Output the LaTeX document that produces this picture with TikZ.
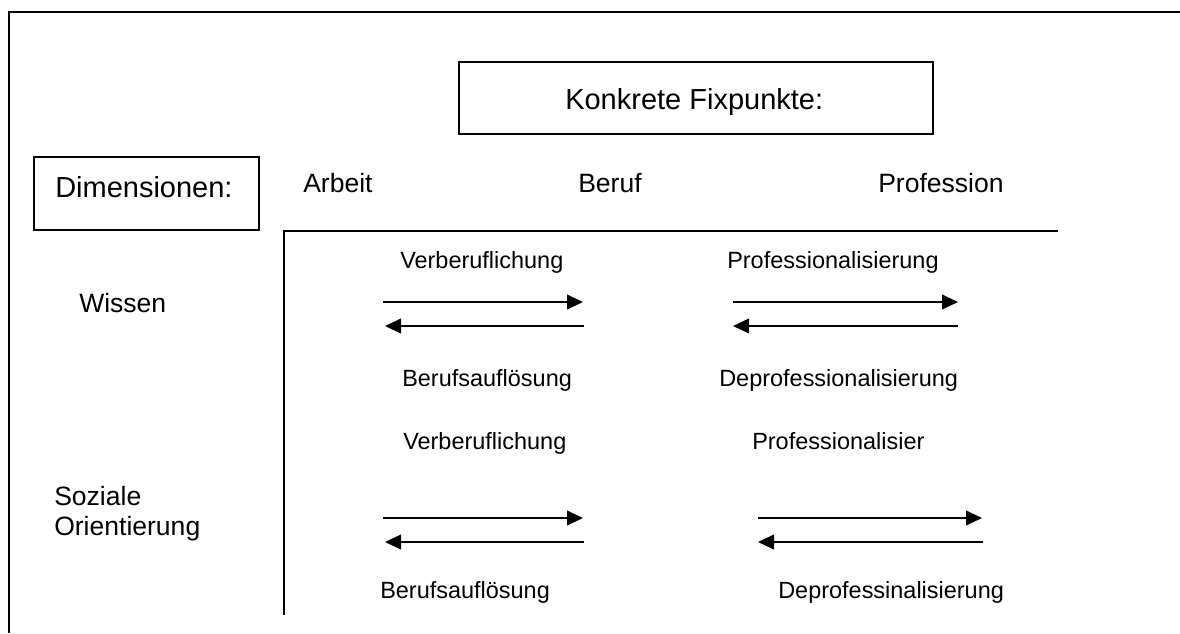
\documentclass[tikz,border=0pt]{standalone}
\usepackage{fontspec}
\setmainfont{Liberation Sans}
\usetikzlibrary{arrows.meta}
\begin{document}
\begin{tikzpicture}[x=0.75pt,y=-0.75pt,
  ln/.style={line width=1.4pt},
  big/.style={font=\fontsize{21.75}{26}\selectfont, inner sep=0, anchor=base west},
  mid/.style={font=\fontsize{19.9}{24}\selectfont, inner sep=0, anchor=base west},
  sml/.style={font=\fontsize{17.6}{21}\selectfont, inner sep=0, anchor=base west},
  arr/.style={line width=1.4pt, -{Triangle[length=12pt,width=11pt]}},
  box/.style={draw, line width=1.4pt, inner sep=0}]
\useasboundingbox (0,0) rectangle (1180,633);
% outer frame (cut at right and bottom)
\coordinate (fr) at (1180,12);
\coordinate (ftl) at (9,12);
\coordinate (fb) at (9,633);
\draw[ln] (fr) -- (ftl) -- (fb);
% boxes
\node[box, minimum width=355.5pt, minimum height=54pt] (kfbox) at (696,98) {};
\node[big] (kf) at (565,109) {Konkrete Fixpunkte:};
\node[box, minimum width=168.75pt, minimum height=54.75pt] (dimbox) at (146.5,193.5) {};
\node[big] (dim) at (55,197) {Dimensionen:};
% column heads
\node[mid] (arbeit) at (303,192) {Arbeit};
\node[mid] (beruf) at (578,192) {Beruf};
\node[mid] (prof) at (878,192) {Profession};
% axes
\coordinate (hr) at (1058,231);
\coordinate (corner) at (284,231);
\coordinate (vb) at (284,615);
\draw[ln] (hr) -- (corner) -- (vb);
% row labels
\node[mid] (wissen) at (79,312) {Wissen};
\node[mid] (soz) at (54,505) {Soziale};
\node[mid] (orient) at (54,535) {Orientierung};
% row 1
\node[sml] (v1) at (400,268) {Verberuflichung};
\node[sml] (p1) at (727,268) {Professionalisierung};
\node[sml] (b1) at (402,386) {Berufsauflösung};
\node[sml] (d1) at (719,386) {Deprofessionalisierung};
\coordinate (a1s) at (383,302); \coordinate (a1e) at (583,302);
\coordinate (a2s) at (584,326); \coordinate (a2e) at (385,326);
\coordinate (a3s) at (733,302); \coordinate (a3e) at (958,302);
\coordinate (a4s) at (958,326); \coordinate (a4e) at (733,326);
\draw[arr] (a1s) -- (a1e);
\draw[arr] (a2s) -- (a2e);
\draw[arr] (a3s) -- (a3e);
\draw[arr] (a4s) -- (a4e);
% row 2
\node[sml] (v2) at (403,449) {Verberuflichung};
\node[sml] (p2) at (752,449) {Professionalisier};
\node[sml] (b2) at (380,598) {Berufsauflösung};
\node[sml] (d2) at (778,598) {Deprofessinalisierung};
\coordinate (a5s) at (383,518); \coordinate (a5e) at (583,518);
\coordinate (a6s) at (584,542); \coordinate (a6e) at (385,542);
\coordinate (a7s) at (758,518); \coordinate (a7e) at (982,518);
\coordinate (a8s) at (983,542); \coordinate (a8e) at (758,542);
\draw[arr] (a5s) -- (a5e);
\draw[arr] (a6s) -- (a6e);
\draw[arr] (a7s) -- (a7e);
\draw[arr] (a8s) -- (a8e);
\end{tikzpicture}
\end{document}
